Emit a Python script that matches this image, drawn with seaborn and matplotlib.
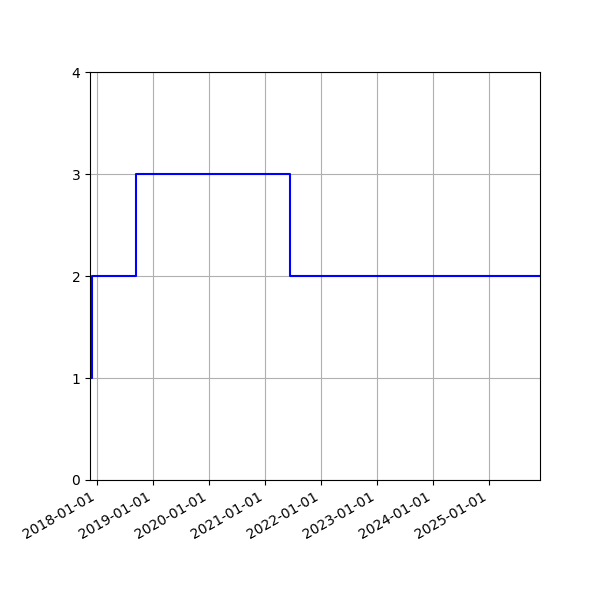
import matplotlib
matplotlib.use("Agg")
import matplotlib.pyplot as plt
import matplotlib.dates as mdates
import pandas as pd
import seaborn as sns

dates = ["2017-11-14", "2017-11-27", "2018-09-10", "2021-06-10", "2025-11-29"]
values = [1, 2, 3, 2, 2]

df = pd.DataFrame({"date": pd.to_datetime(dates), "value": values})

fig, ax = plt.subplots(figsize=(6, 6), dpi=100)
sns.lineplot(data=df, x="date", y="value", ax=ax, color="blue",
             drawstyle="steps-post", linewidth=1.5)
ax.set_xlim(df["date"].min(), df["date"].max())
ax.set_ylim(0, 4)
ax.set_yticks([0, 1, 2, 3, 4])
ax.xaxis.set_major_locator(mdates.YearLocator())
ax.xaxis.set_major_formatter(mdates.DateFormatter("%Y-%m-%d"))
ax.set_xlabel("")
ax.set_ylabel("")
ax.grid(True)
fig.autofmt_xdate()
fig.subplots_adjust(left=0.15, right=0.9, top=0.88, bottom=0.2)
fig.savefig("out.png", dpi=100)
